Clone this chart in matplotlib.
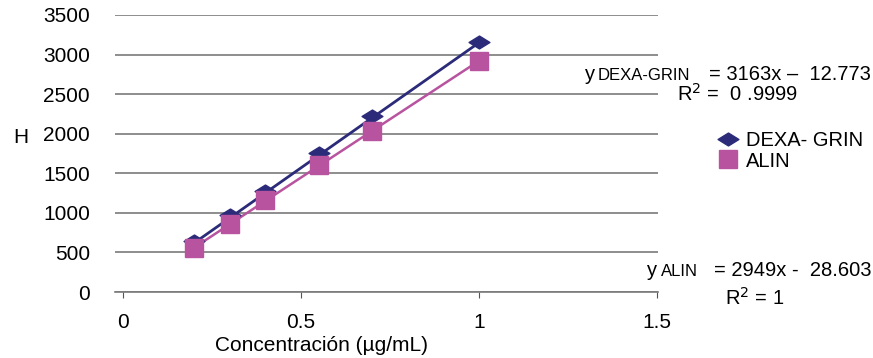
import matplotlib

matplotlib.use("Agg")
import matplotlib.pyplot as plt
from matplotlib.path import Path
import numpy as np

plt.rcParams["font.family"] = ["Liberation Sans", "DejaVu Sans"]

conc = [0.2, 0.3, 0.4, 0.55, 0.7, 1.0]
h_dexa = [640, 975, 1280, 1760, 2230, 3160]
h_alin = [560, 860, 1160, 1600, 2040, 2920]

fit_dexa = (3163, -12.773)
fit_alin = (2949, -28.603)

x_ticks = [0, 0.5, 1, 1.5]
x_tick_labels = ["0", "0.5", "1", "1.5"]
y_ticks = [0, 500, 1000, 1500, 2000, 2500, 3000, 3500]

navy = "#2B2B7A"
pink = "#B8549F"

W, H = 873, 358
fs = 15
fs_txt = 14.5
sub = 12

diamond = Path([(-1, 0), (0, 0.62), (1, 0), (0, -0.62), (-1, 0)],
               [Path.MOVETO, Path.LINETO, Path.LINETO, Path.LINETO, Path.CLOSEPOLY])


def fx(px):
    return px / W


def fy(py):
    return 1 - py / H


fig = plt.figure(figsize=(W / 100, H / 100), dpi=100)
ax = fig.add_axes([fx(115), fy(292), fx(658) - fx(115), fy(15) - fy(292)])

xs = np.array(conc)
ax.plot(xs, fit_dexa[0] * xs + fit_dexa[1], color=navy, lw=2, zorder=3)
ax.plot(xs, fit_alin[0] * xs + fit_alin[1], color=pink, lw=1.8, zorder=3)
ax.plot(conc, h_dexa, ls="none", marker=diamond, ms=15, color=navy, zorder=4, label="DEXA- GRIN")
ax.plot(conc, h_alin, ls="none", marker="s", ms=13, color=pink, zorder=5, label="ALIN")

ax.set_xlim(-0.0225, 1.503)
ax.set_ylim(0, 3500)
ax.set_xticks(x_ticks)
ax.set_xticklabels(x_tick_labels)
ax.set_yticks(y_ticks)
ax.yaxis.grid(True, color="#7a7a7a", lw=1.2)
ax.set_axisbelow(True)
for s in ["top", "right", "left"]:
    ax.spines[s].set_visible(False)
ax.spines["bottom"].set_color("#7a7a7a")
ax.spines["bottom"].set_linewidth(1.2)
ax.tick_params(axis="y", length=0, pad=18, labelsize=fs)
ax.tick_params(axis="x", length=4, color="#555555", pad=11, labelsize=fs)
ax.set_xlabel("Concentración (µg/mL)", fontsize=fs)
ax.xaxis.set_label_coords(0.381, -0.16)
ax.xaxis.label.set_va("top")
ax.set_ylabel("H", fontsize=fs, rotation=0, va="center")
ax.yaxis.set_label_coords(-0.173, 0.556)

ax.legend(loc="center left", bbox_to_anchor=(fx(709), fy(151)), bbox_transform=fig.transFigure,
          frameon=False, fontsize=14.5, handlelength=1.1, handletextpad=0.35, labelspacing=0.05,
          borderaxespad=0)

fig.text(fx(585), fy(80), "y", fontsize=fs_txt, va="baseline")
fig.text(fx(598), fy(80), "DEXA-GRIN", fontsize=sub, va="baseline")
fig.text(fx(871), fy(80), "= 3163x \u2013  12.773", fontsize=fs_txt, va="baseline", ha="right")
fig.text(fx(677), fy(101), "R$^2$ =  0 .9999", fontsize=fs_txt, va="baseline")

fig.text(fx(647), fy(276), "y", fontsize=fs_txt, va="baseline")
fig.text(fx(661), fy(276), "ALIN", fontsize=sub, va="baseline")
fig.text(fx(871), fy(276), "= 2949x -  28.603", fontsize=fs_txt, va="baseline", ha="right")
fig.text(fx(725), fy(305), "R$^2$ = 1", fontsize=fs_txt, va="baseline")

fig.savefig("out.png", dpi=100)
